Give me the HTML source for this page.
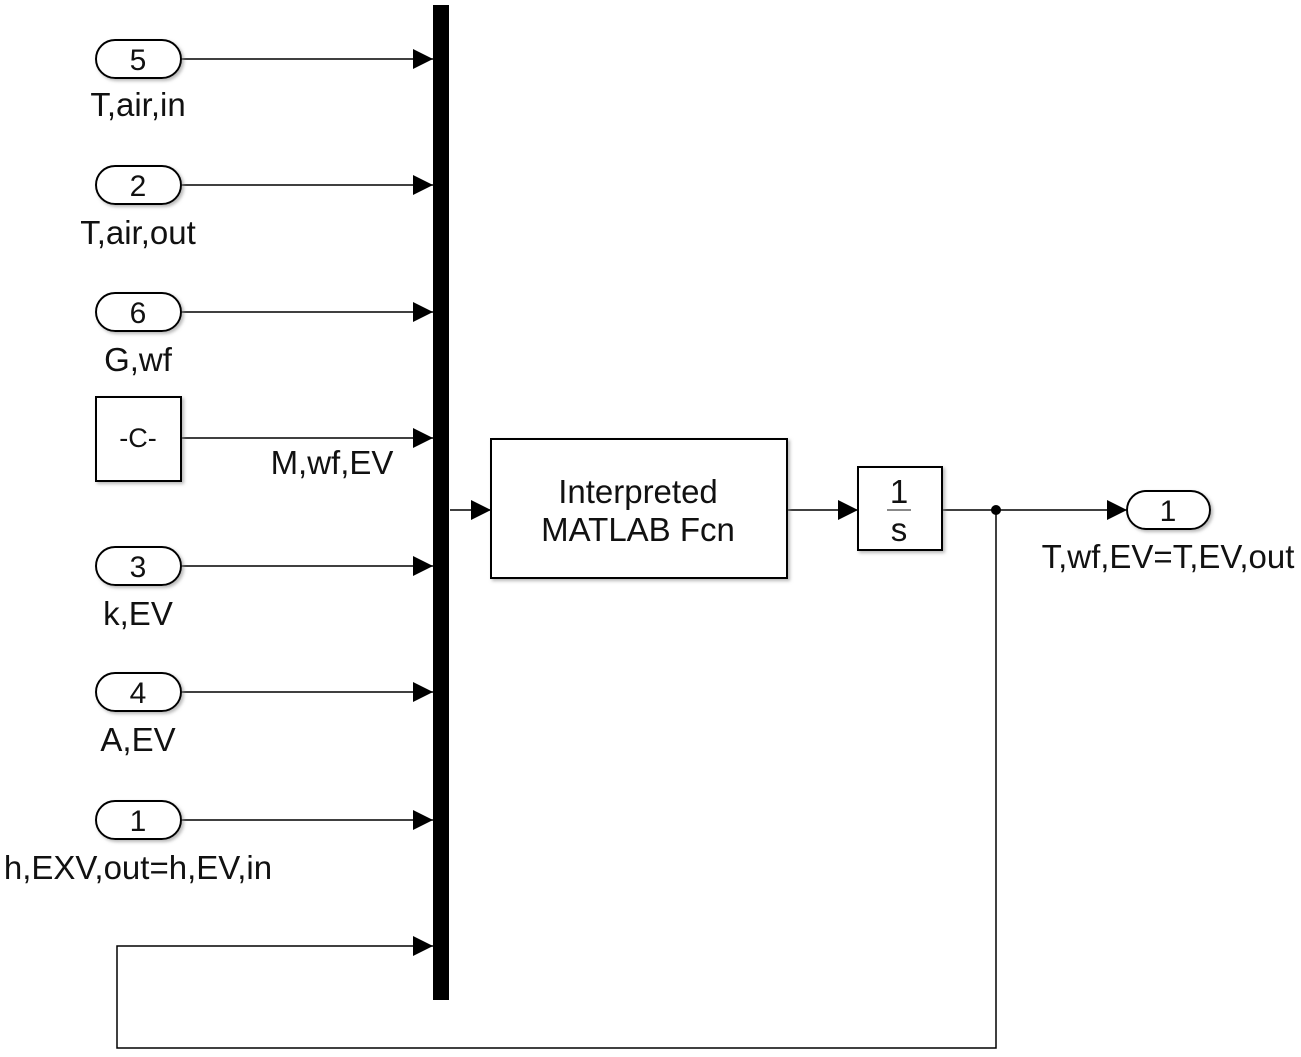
<!DOCTYPE html>
<html><head><style>
body{margin:0;background:#fff}
svg text{font-family:"Liberation Sans",sans-serif;fill:#111}
</style></head><body>
<svg width="1301" height="1052" viewBox="0 0 1301 1052" xmlns="http://www.w3.org/2000/svg">
<defs>
<marker id="a" markerWidth="20" markerHeight="20" refX="20" refY="10" orient="auto" markerUnits="userSpaceOnUse">
<path d="M0,0 L20,10 L0,20 Z" fill="#000"/></marker>
<filter id="sh"><feDropShadow dx="2" dy="2" stdDeviation="1.5" flood-color="#888" flood-opacity="0.6"/></filter>
</defs>
<g stroke="#000" stroke-width="1.5" fill="none">
<line x1="181" y1="59" x2="433" y2="59" marker-end="url(#a)"/>
<line x1="181" y1="185" x2="433" y2="185" marker-end="url(#a)"/>
<line x1="181" y1="312" x2="433" y2="312" marker-end="url(#a)"/>
<line x1="181" y1="438" x2="433" y2="438" marker-end="url(#a)"/>
<line x1="181" y1="566" x2="433" y2="566" marker-end="url(#a)"/>
<line x1="181" y1="692" x2="433" y2="692" marker-end="url(#a)"/>
<line x1="181" y1="820" x2="433" y2="820" marker-end="url(#a)"/>
<polyline points="996,510 996,1048 117,1048 117,946 433,946" marker-end="url(#a)"/>
<line x1="450" y1="510" x2="491" y2="510" marker-end="url(#a)"/>
<line x1="787" y1="510" x2="858" y2="510" marker-end="url(#a)"/>
<line x1="942" y1="510" x2="1127" y2="510" marker-end="url(#a)"/>
</g>
<circle cx="996" cy="510" r="5" fill="#000"/>
<rect x="433" y="5" width="16" height="995" fill="#000"/>
<g stroke="#000" stroke-width="2" fill="#fff" filter="url(#sh)">
<rect x="96" y="40" width="85" height="38" rx="19"/>
<rect x="96" y="166" width="85" height="38" rx="19"/>
<rect x="96" y="293" width="85" height="38" rx="19"/>
<rect x="96" y="397" width="85" height="84"/>
<rect x="96" y="547" width="85" height="38" rx="19"/>
<rect x="96" y="673" width="85" height="38" rx="19"/>
<rect x="96" y="801" width="85" height="38" rx="19"/>
<rect x="491" y="439" width="296" height="139"/>
<rect x="858" y="467" width="84" height="83"/>
<rect x="1127" y="491" width="83" height="38" rx="19"/>
</g>
<g font-size="30" text-anchor="middle">
<text x="138" y="70">5</text>
<text x="138" y="196">2</text>
<text x="138" y="323">6</text>
<text x="138" y="577">3</text>
<text x="138" y="703">4</text>
<text x="138" y="831">1</text>
<text x="1168" y="521">1</text>
</g>
<g font-size="33" text-anchor="middle">
<text x="138" y="116">T,air,in</text>
<text x="138" y="244">T,air,out</text>
<text x="138" y="371">G,wf</text>
<text x="138" y="625">k,EV</text>
<text x="138" y="751">A,EV</text>
<text x="138" y="879">h,EXV,out=h,EV,in</text>
<text x="1168" y="568">T,wf,EV=T,EV,out</text>
<text x="332" y="474">M,wf,EV</text>
<text x="638" y="503">Interpreted</text>
<text x="638" y="541">MATLAB Fcn</text>
<text x="899" y="503">1</text>
<text x="899" y="541">s</text>
<text x="138" y="447" font-size="27">-C-</text>
</g>
<line x1="887" y1="510" x2="911" y2="510" stroke="#888" stroke-width="2"/>
</svg>
</body></html>
